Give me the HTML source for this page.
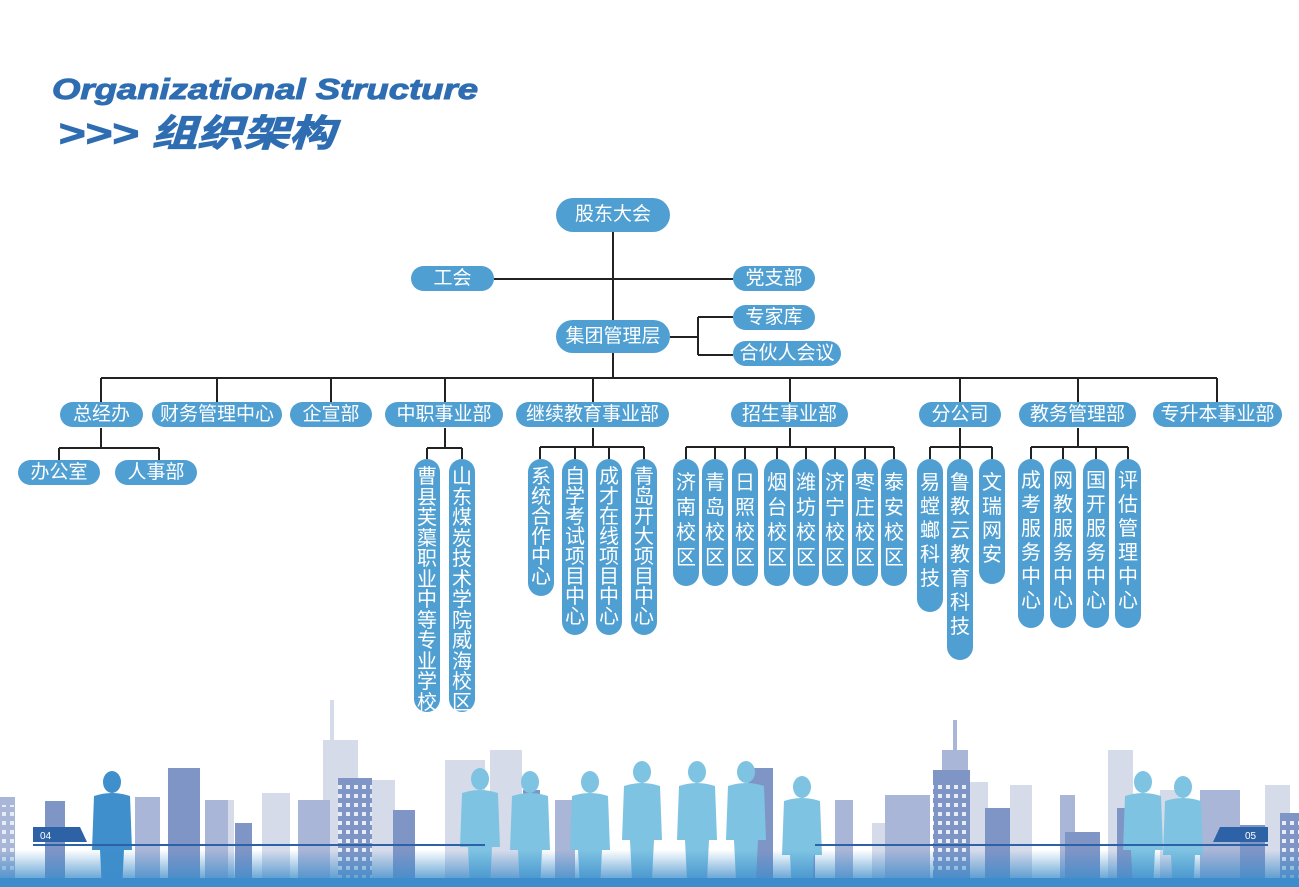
<!DOCTYPE html>
<html><head><meta charset="utf-8"><style>
html,body{margin:0;padding:0;background:#fff;width:1299px;height:887px;overflow:hidden;position:relative;font-family:"Liberation Sans","Noto Sans CJK SC",sans-serif}
.n{position:absolute;background:#4f9fd2;color:#fff;border-radius:14px;text-align:center;font-size:19px;line-height:25px;height:25px;white-space:nowrap}
.v{position:absolute;background:#4f9fd2;color:#fff;border-radius:13px;text-align:center;font-size:20px;width:26px;box-sizing:border-box;padding-top:8px;word-break:break-all}
svg{position:absolute;left:0;top:0}
</style></head><body>
<svg width="1299" height="887" viewBox="0 0 1299 887">
<defs>
<linearGradient id="g" x1="0" y1="0" x2="0" y2="1"><stop offset="0" stop-color="#3d8ccb" stop-opacity="0"/><stop offset="1" stop-color="#3d8ccb"/></linearGradient>
<pattern id="w" width="8" height="9" patternUnits="userSpaceOnUse"><rect x="2" y="2" width="4" height="4" fill="#e8ecf5"/></pattern>
<g id="p"><ellipse cx="0" cy="-98" rx="9" ry="11"/><path d="M-18 -84 Q0 -90 18 -84 L20 -30 L12 -30 L10 10 L-10 10 L-12 -30 L-20 -30Z"/></g>
</defs>
<g fill="#d6dbea">
<rect x="262" y="793" width="28" height="94"/><rect x="330" y="700" width="4" height="40"/><rect x="323" y="740" width="35" height="147"/>
<rect x="370" y="780" width="25" height="107"/><rect x="445" y="760" width="40" height="127"/><rect x="490" y="750" width="32" height="137"/>
<rect x="872" y="823" width="30" height="64"/><rect x="970" y="782" width="18" height="105"/><rect x="1010" y="785" width="22" height="102"/>
<rect x="1108" y="750" width="25" height="137"/><rect x="1160" y="790" width="20" height="97"/><rect x="1265" y="785" width="25" height="102"/><rect x="222" y="800" width="12" height="87"/>
</g>
<g fill="#a9b6d7">
<rect x="0" y="797" width="15" height="90"/><rect x="135" y="797" width="25" height="90"/><rect x="205" y="800" width="23" height="87"/><rect x="298" y="800" width="32" height="87"/>
<rect x="885" y="795" width="45" height="92"/><rect x="953" y="720" width="4" height="30"/><rect x="942" y="750" width="26" height="137"/><rect x="1060" y="795" width="15" height="92"/><rect x="1200" y="790" width="40" height="97"/><rect x="555" y="800" width="20" height="87"/><rect x="835" y="800" width="18" height="87"/>
</g>
<g fill="#7f95c6">
<rect x="45" y="801" width="20" height="86"/><rect x="168" y="768" width="32" height="119"/><rect x="235" y="823" width="17" height="64"/><rect x="338" y="778" width="34" height="109"/>
<rect x="393" y="810" width="22" height="77"/><rect x="523" y="790" width="17" height="97"/><rect x="748" y="768" width="25" height="119"/><rect x="795" y="808" width="20" height="79"/>
<rect x="933" y="770" width="37" height="117"/><rect x="985" y="808" width="25" height="79"/><rect x="1065" y="832" width="35" height="55"/><rect x="1117" y="808" width="16" height="79"/><rect x="1280" y="813" width="19" height="74"/><rect x="1240" y="825" width="25" height="62"/>
</g>
<rect x="338" y="785" width="34" height="95" fill="url(#w)"/><rect x="933" y="780" width="37" height="95" fill="url(#w)"/><rect x="1280" y="820" width="19" height="60" fill="url(#w)"/><rect x="0" y="805" width="15" height="70" fill="url(#w)"/>
<g fill="#7ec3e2">
<use href="#p" x="480" y="877"/><use href="#p" x="530" y="880"/><use href="#p" x="590" y="880"/><use href="#p" x="642" y="870"/><use href="#p" x="697" y="870"/><use href="#p" x="746" y="870"/><use href="#p" x="802" y="885"/>
<use href="#p" x="1143" y="880"/><use href="#p" x="1183" y="885"/>
</g>
<g fill="#3f8fcc"><use href="#p" x="112" y="880"/></g>
<rect x="0" y="850" width="1299" height="37" fill="url(#g)"/>
<rect x="0" y="878" width="1299" height="9" fill="#3d8ccb"/>
<path d="M33 827 H80 L87 842 H33Z" fill="#2d62a6"/><text x="40" y="839" font-size="10" fill="#fff" font-family="Liberation Sans">04</text>
<rect x="33" y="844" width="452" height="2" fill="#2d62a6"/>
<path d="M1220 827 H1268 V842 H1213Z" fill="#2d62a6"/><text x="1245" y="839" font-size="10" fill="#fff" font-family="Liberation Sans">05</text>
<rect x="815" y="844" width="453" height="2" fill="#2d62a6"/>
<text x="52" y="99" font-size="29" font-weight="bold" font-style="italic" fill="#2f6db2" stroke="#2f6db2" stroke-width="1" textLength="426" lengthAdjust="spacingAndGlyphs" font-family="Liberation Sans">Organizational  Structure</text>
<text x="58" y="146" font-size="37" font-weight="bold" font-style="italic" fill="#2f6db2" stroke="#2f6db2" stroke-width="1" textLength="277" lengthAdjust="spacingAndGlyphs" font-family="Liberation Sans, Noto Sans CJK SC, sans-serif">&gt;&gt;&gt; 组织架构</text>
<g stroke="#222" stroke-width="2" fill="none">
<path d="M613 232V378M494 279H733M670 337H698M698 317V355M698 317H733M698 355H733"/>
<path d="M101 378H1217M101 378V402M217 378V402M331 378V402M445 378V402M593 378V402M790 378V402M960 378V402M1078 378V402M1217 378V402"/>
<path d="M101 428V448M59 448H159M59 448V460M159 448V460"/>
<path d="M445 428V448M427 448H462M427 448V459M462 448V459"/>
<path d="M593 428V447M540 447H644M540 447V459M575 447V459M609 447V459M644 447V459"/>
<path d="M790 428V447M686 447H894M686 447V459M715 447V459M745 447V459M777 447V459M806 447V459M835 447V459M865 447V459M894 447V459"/>
<path d="M960 428V447M930 447H992M930 447V459M960 447V459M992 447V459"/>
<path d="M1078 428V447M1031 447H1128M1031 447V459M1063 447V459M1096 447V459M1128 447V459"/>
</g>
</svg>
<div class="n" style="left:556px;top:198px;width:114px;height:34px;line-height:34px;border-radius:17px">股东大会</div>
<div class="n" style="left:411px;top:266px;width:83px">工会</div>
<div class="n" style="left:733px;top:266px;width:82px">党支部</div>
<div class="n" style="left:556px;top:320px;width:114px;height:33px;line-height:33px;border-radius:17px">集团管理层</div>
<div class="n" style="left:733px;top:305px;width:82px">专家库</div>
<div class="n" style="left:733px;top:341px;width:108px">合伙人会议</div>
<div class="n" style="left:60px;top:402px;width:83px">总经办</div>
<div class="n" style="left:152px;top:402px;width:130px">财务管理中心</div>
<div class="n" style="left:290px;top:402px;width:82px">企宣部</div>
<div class="n" style="left:385px;top:402px;width:118px">中职事业部</div>
<div class="n" style="left:516px;top:402px;width:153px">继续教育事业部</div>
<div class="n" style="left:731px;top:402px;width:117px">招生事业部</div>
<div class="n" style="left:919px;top:402px;width:82px">分公司</div>
<div class="n" style="left:1019px;top:402px;width:117px">教务管理部</div>
<div class="n" style="left:1153px;top:402px;width:129px">专升本事业部</div>
<div class="n" style="left:18px;top:460px;width:82px">办公室</div>
<div class="n" style="left:115px;top:460px;width:82px">人事部</div>

<div class="v" style="left:414px;top:459px;height:253px;line-height:20.5px">曹县芙蕖职业中等专业学校</div>
<div class="v" style="left:449px;top:459px;height:253px;line-height:20.5px">山东煤炭技术学院威海校区</div>
<div class="v" style="left:528px;top:459px;height:137px;line-height:20px">系统合作中心</div>
<div class="v" style="left:562px;top:459px;height:176px;line-height:20px">自学考试项目中心</div>
<div class="v" style="left:596px;top:459px;height:176px;line-height:20px">成才在线项目中心</div>
<div class="v" style="left:631px;top:459px;height:176px;line-height:20px">青岛开大项目中心</div>
<div class="v" style="left:673px;top:459px;height:127px;line-height:25px;padding-top:12px">济南校区</div>
<div class="v" style="left:702px;top:459px;height:127px;line-height:25px;padding-top:12px">青岛校区</div>
<div class="v" style="left:732px;top:459px;height:127px;line-height:25px;padding-top:12px">日照校区</div>
<div class="v" style="left:764px;top:459px;height:127px;line-height:25px;padding-top:12px">烟台校区</div>
<div class="v" style="left:793px;top:459px;height:127px;line-height:25px;padding-top:12px">潍坊校区</div>
<div class="v" style="left:822px;top:459px;height:127px;line-height:25px;padding-top:12px">济宁校区</div>
<div class="v" style="left:852px;top:459px;height:127px;line-height:25px;padding-top:12px">枣庄校区</div>
<div class="v" style="left:881px;top:459px;height:127px;line-height:25px;padding-top:12px">泰安校区</div>
<div class="v" style="left:917px;top:459px;height:153px;line-height:24px;padding-top:12px">易螳螂科技</div>
<div class="v" style="left:947px;top:459px;height:201px;line-height:24px;padding-top:12px">鲁教云教育科技</div>
<div class="v" style="left:979px;top:459px;height:125px;line-height:24px;padding-top:12px">文瑞网安</div>
<div class="v" style="left:1018px;top:459px;height:169px;line-height:24px;padding-top:10px">成考服务中心</div>
<div class="v" style="left:1050px;top:459px;height:169px;line-height:24px;padding-top:10px">网教服务中心</div>
<div class="v" style="left:1083px;top:459px;height:169px;line-height:24px;padding-top:10px">国开服务中心</div>
<div class="v" style="left:1115px;top:459px;height:169px;line-height:24px;padding-top:10px">评估管理中心</div>
</body></html>
